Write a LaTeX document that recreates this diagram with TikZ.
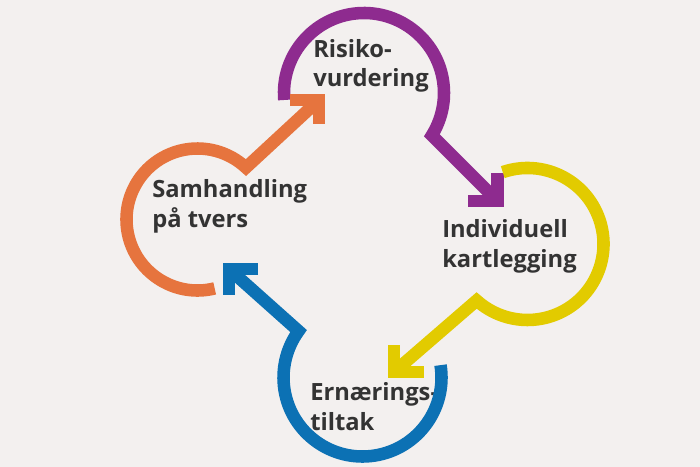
\documentclass[tikz,border=0pt]{standalone}
\usepackage{fontspec}
\setmainfont{Open Sans}
\definecolor{bgcol}{HTML}{F3F0EF}
\definecolor{purp}{HTML}{8E2B8F}
\definecolor{yell}{HTML}{E2CB00}
\definecolor{blu}{HTML}{0C71B4}
\definecolor{oran}{HTML}{E6743E}
\definecolor{txt}{HTML}{333333}
\tikzset{
    mytext/.style={
        inner sep=0,
        align=left,
        anchor=base west,
        text=txt,
        font=\bfseries\fontsize{17.8}{22}\selectfont,
    },
    myarc/.style={
        line width=9.4pt,
        line join=miter,
        line cap=butt,
    },
}
\begin{document}
\begin{tikzpicture}[x=0.75pt, y=-0.75pt]
            \fill[bgcol] (0, 0) rectangle (700, 467);
            \useasboundingbox (0, 0) rectangle (700, 467);

            \node[mytext] at (313, 87)  (risk)  {Risiko-\\vurdering};
            \node[mytext] at (442, 267) (kart)  {Individuell\\kartlegging};
            \node[mytext] at (310, 430) (tilt)  {Ernærings-\\tiltak};
            \node[mytext] at (152, 227) (samh)  {Samhandling\\på tvers};

            \coordinate (riskc) at (364, 93);
            \coordinate (kartc) at (527.5, 244);
            \coordinate (tiltc) at (362.5, 377.5);
            \coordinate (samhc) at (197.5, 219.5);

            \coordinate (risktip) at (497.5, 201);
            \coordinate (karttip) at (394, 372);
            \coordinate (tilttip) at (229, 269);
            \coordinate (samhtip) at (319, 100);

            % purple
            \draw[myarc, purp] (riskc) ++(175:80) arc[start angle=175, end angle=392, radius=80] -- (risktip);
            \draw[myarc, purp] (risktip) ++(-29.5, 0) -- (risktip) -- ++(0, -28);
            % yellow
            \draw[myarc, yell] (kartc) ++(251:76) arc[start angle=251, end angle=492, radius=76] -- (karttip);
            \draw[myarc, yell] (karttip) ++(0, -27) -- (karttip) -- ++(30, 0);
            % blue
            \draw[myarc, blu] (tiltc) ++(351:79) arc[start angle=351, end angle=576, radius=79] -- (tilttip);
            \draw[myarc, blu] (tilttip) ++(29, 0) -- (tilttip) -- ++(0, 26);
            % orange
            \draw[myarc, oran] (samhc) ++(76:71) arc[start angle=76, end angle=313, radius=71] -- (samhtip);
            \draw[myarc, oran] (samhtip) ++(-29, 0) -- (samhtip) -- ++(0, 24);
        \end{tikzpicture}
\end{document}
